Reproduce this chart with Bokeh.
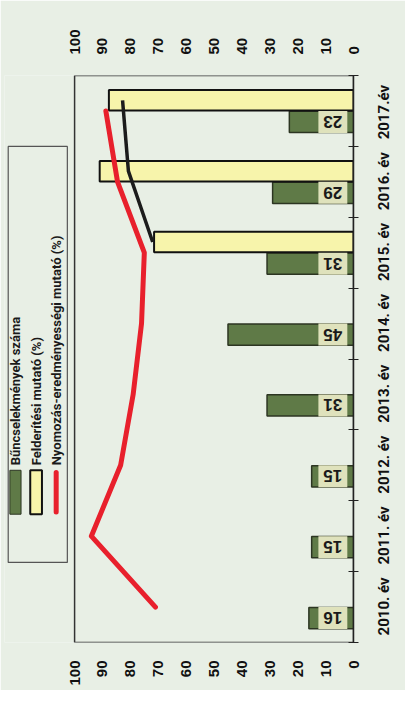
import math
from bokeh.plotting import figure
from bokeh.models import Range1d, FixedTicker, LinearAxis
from bokeh.core.properties import value
from bokeh.embed import file_html
from bokeh.resources import INLINE

# ---------------- data ----------------
years = ["2010. év", "2011. év", "2012. év", "2013. év", "2014. év", "2015. év", "2016. év", "2017.év"]
crimes = [16, 15, 15, 31, 45, 31, 29, 23]                      # Bűncselekmények száma
clearance = [None, None, None, None, None, 71.5, 91, 87.7]     # Felderítési mutató (%)
investigation = [71, 94, 83.5, 79, 76, 75, 84.6, 88.8]         # Nyomozás-eredményességi mutató (%)
trend = [None, None, None, None, None, 72, 80.7, 82.8]         # black line
value_ticks = [0, 10, 20, 30, 40, 50, 60, 70, 80, 90, 100]
legend_labels = ["Bűncselekmények száma", "Felderítési mutató (%)", "Nyomozás-eredményességi mutató (%)"]

# ---------------- styles ----------------
BG = "#e8efe5"
GREEN = "#5f7a47"
GREEN_EDGE = "#2c3522"
YELLOW = "#f7f4ab"
RED = "#e8202c"
LABEL_BG = "#dfe2bc"
NUM_FONT = "Liberation Sans"
TXT_FONT = "Roboto"
LABEL_HALF = 0.40   # half the length of a rotated year label, in category units

n = len(years)
centers = [i + 0.5 for i in range(n)]
green_y = [c - 0.155 for c in centers]
yellow_y = [c + 0.15 for c in centers]

p = figure(width=405, height=690, output_backend="svg", toolbar_location=None,
           x_range=Range1d(125.13, 0), y_range=Range1d(0, n),
           x_axis_location="above", y_axis_location="right",
           min_border_left=4, min_border_right=45, min_border_top=75, min_border_bottom=48,
           background_fill_color=BG, border_fill_color=BG)
p.outline_line_color = None
p.xgrid.visible = False
p.ygrid.visible = False

# value axes (top and bottom)
bottom_axis = LinearAxis()
p.add_layout(bottom_axis, "below")
for ax in p.xaxis:
    ax.axis_label = None
    ax.ticker = FixedTicker(ticks=value_ticks, minor_ticks=[])
    ax.axis_line_color = None
    ax.major_tick_line_color = None
    ax.minor_tick_line_color = None
    ax.major_tick_out = 0
    ax.major_tick_in = 0
    ax.minor_tick_out = 0
    ax.major_label_orientation = math.pi / 2
    ax.major_label_text_font = NUM_FONT
    ax.major_label_text_font_style = "bold"
    ax.major_label_text_font_size = "15px"
    ax.major_label_text_color = "#111111"
p.xaxis[0].major_label_standoff = 21
bottom_axis.major_label_standoff = 18

# category axis (right): rotated labels start at their tick, so the tick is
# shifted down by half a label length to center each label on its category
ya = p.yaxis[0]
ya.axis_label = None
label_ticks = [round(c - LABEL_HALF, 3) for c in centers]
ya.ticker = FixedTicker(ticks=label_ticks, minor_ticks=list(range(n + 1)))
ya.major_label_overrides = {t: y for t, y in zip(label_ticks, years)}
ya.major_label_orientation = math.pi / 2
ya.major_tick_line_color = None
ya.major_tick_out = 0
ya.major_tick_in = 0
ya.minor_tick_in = 5
ya.minor_tick_out = 5
ya.minor_tick_line_color = "#222222"
ya.axis_line_color = "#222222"
ya.axis_line_width = 1.5
ya.major_label_standoff = 26
ya.major_label_text_font = TXT_FONT
ya.major_label_text_font_style = "bold"
ya.major_label_text_font_size = "15px"
ya.major_label_text_color = "#111111"

# plot area box
p.quad(left=[100], right=[0], bottom=[0], top=[n], fill_color=None,
       line_color="#333333", line_width=1.5)

# bars
p.hbar(y=green_y, left=0, right=crimes, height=0.3, fill_color=GREEN,
       line_color=GREEN_EDGE, line_width=1.5)
cl_y = [y for y, v in zip(yellow_y, clearance) if v is not None]
cl_v = [v for v in clearance if v is not None]
p.hbar(y=cl_y, left=0, right=cl_v, height=0.29, fill_color=YELLOW,
       line_color="#111111", line_width=2)

# lines
p.line(x=investigation, y=centers, line_color=RED, line_width=5, line_cap="round", line_join="round")
tr_y = [y for y, v in zip(yellow_y, trend) if v is not None]
tr_v = [v for v in trend if v is not None]
p.line(x=tr_v, y=tr_y, line_color="#1c1c1c", line_width=3.5, line_join="round")

# value labels
p.text(x=[7.4] * n, y=green_y, text=[str(v) for v in crimes], angle=math.pi,
       text_align="center", text_baseline="middle", text_font=value(NUM_FONT),
       text_font_style="bold", text_font_size="17px", text_color="#1a1a1a",
       background_fill_color=LABEL_BG, padding=5)

# legend (drawn rotated, outside the plot box)
p.quad(left=[123.8], right=[102.6], bottom=[1.13], top=[7.0], fill_color=None,
       line_color="#555555", line_width=1.2)
p.quad(left=[123.2], right=[119.2], bottom=[1.81], top=[2.43], fill_color=GREEN,
       line_color=GREEN_EDGE, line_width=1)
p.quad(left=[115.9], right=[111.7], bottom=[1.81], top=[2.43], fill_color=YELLOW,
       line_color="#111111", line_width=2)
p.line(x=[106.6, 106.6], y=[1.84, 2.40], line_color=RED, line_width=5, line_cap="round")
p.text(x=[121.3, 113.8, 106.6], y=[2.5, 2.5, 2.5], text=legend_labels, angle=math.pi / 2,
       text_align="left", text_baseline="middle", text_font=value(TXT_FONT),
       text_font_style="bold", text_font_size="13px", text_color="#1a1a1a")

open("out.html", "w").write(file_html(p, INLINE))
